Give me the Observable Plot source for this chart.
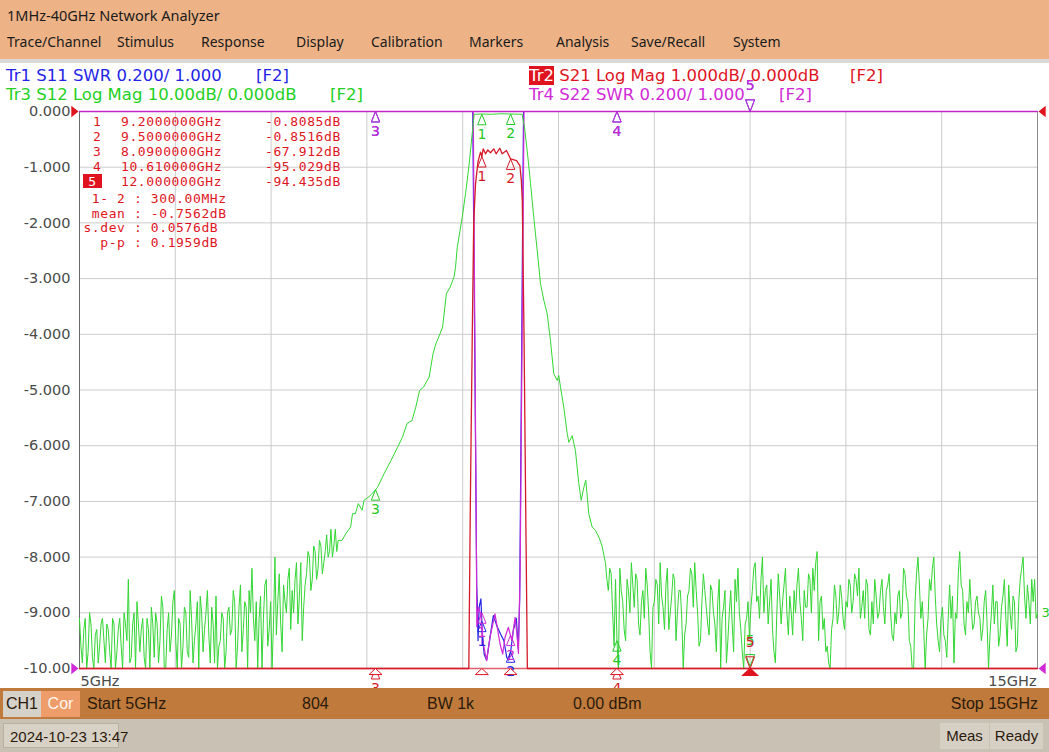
<!DOCTYPE html>
<html>
<head>
<meta charset="utf-8">
<script src="https://cdn.jsdelivr.net/npm/d3@7"></script>
<script src="https://cdn.jsdelivr.net/npm/@observablehq/plot@0.6"></script>
<style>
  html,body{margin:0;padding:0;}
  body{width:1049px;height:752px;position:relative;overflow:hidden;background:#fff;}
  .a{position:absolute;white-space:nowrap;}
  .ui{font-family:"Noto Sans","Open Sans",sans-serif;font-size:14px;color:#1a1a1a;line-height:18px;}
  .tr{font-family:"DejaVu Sans",sans-serif;font-size:16.5px;line-height:19px;}
  .mk{font-family:"DejaVu Sans Mono",monospace;font-size:13px;letter-spacing:0.6px;color:#e0141e;line-height:15px;}
  .nb{font-family:"Liberation Sans Narrow","Liberation Sans",sans-serif;font-size:16px;color:#2b1a0c;line-height:20px;}
</style>
</head>
<body>
<div id="chart" class="a" style="left:0;top:62px;z-index:1"></div>
<script>
// ================= DATA =================
const windowTitle = "1MHz-40GHz Network Analyzer";
const menuItems = ["Trace/Channel","Stimulus","Response","Display","Calibration","Markers","Analysis","Save/Recall","System"];

const traceIds = ["Tr1","Tr2","Tr3","Tr4"];
const traceParams = ["S11","S21","S12","S22"];
const traceFormats = ["SWR","Log Mag","Log Mag","SWR"];
const traceScaleText = ["0.200/ 1.000","1.000dB/ 0.000dB","10.00dB/ 0.000dB","0.200/ 1.000"];
const traceTag = "[F2]";

const startGHz = 5, stopGHz = 15;
const xGridGHz = [6,7,8,9,10,11,12,13,14];
const yGridDiv = [-1,-2,-3,-4,-5,-6,-7,-8,-9];
const yTicks = [0,-1,-2,-3,-4,-5,-6,-7,-8,-9,-10];
const yTickLabels = ["0.000","-1.000","-2.000","-3.000","-4.000","-5.000","-6.000","-7.000","-8.000","-9.000","-10.00"];
const xEdgeLabels = ["5GHz","15GHz"];

// per-division scales and reference values
const s21DbPerDiv = 1, s21RefDb = 0;
const s12DbPerDiv = 10, s12RefDb = 0;
const swrPerDiv = 0.2, swrRef = 1.0;

// Tr3 S12 log mag (dB): low-side noise floor (linear sweep points)
const s12LowNoiseStartGHz = 5.00, s12LowNoiseStopGHz = 7.70;
const s12LowNoiseDb = [
 -91,-96,-99,-93,-91,-100,-97,-90,-92,-98,-100,-94,-93,-99,-96,-92,-91,-95,-99,-92,
 -93,-97,-100,-91,-92,-100,-97,-93,-91,-96,-100,-90,-92,-95,-84,-99,-98,-92,-90,-100,
 -88,-92,-97,-93,-91,-98,-100,-91,-93,-100,-89,-92,-98,-90,-92,-99,-95,-87,-89,-100,
 -100,-93,-90,-97,-94,-88,-86,-95,-100,-91,-92,-100,-96,-89,-90,-97,-98,-86,-91,-99,
 -95,-92,-88,-100,-87,-90,-97,-93,-90,-86,-94,-99,-89,-92,-99,-87,-100,-96,-95,-90,
 -91,-100,-97,-90,-89,-94,-93,-86,-88,-100,-96,-89,-85,-97,-93,-88,-89,-100,-86,-90,
 -82,-91,-95,-88,-100,-91,-87,-100,-91,-85,-84,-96,-93,-88,-100,-92,-80,-94,-88,-83,
 -92,-97,-85,-88,-90,-84,-82,-93,-86,-90,-84,-81,-92,-87,-81,-95,-89,-85,-83,-79,
 -80,-86,-84,-78,-79,-84,-82,-77,-78,-83,-81,-79,-76,-80,-79,-75,-80,-78,-75,-79,
 -77];
// skirts and passband
const s12SkirtGHz = [7.74,7.78,7.83,7.85,7.88,7.91,7.95,7.97,8.02,8.07,8.09,8.11,8.18,8.25,8.32,8.37,8.42,8.47,8.51,8.55,8.59,8.65,8.69,8.72,8.75,8.79,8.83,8.87,8.91,8.925,8.943,8.995,9.03,9.064,9.099,9.12,9.20,9.30,9.40,9.50,9.62,9.645,9.673,9.708,9.742,9.778,9.812,9.847,9.882,9.916,9.951,9.986,10.003,10.021,10.055,10.091,10.108,10.143,10.177,10.212,10.237,10.264,10.285,10.316,10.351,10.386,10.421,10.455];
const s12SkirtDb  = [-77.0,-75.8,-74.6,-72.2,-72.2,-70.4,-71.6,-69.8,-69.2,-68.3,-67.9,-67.5,-65.0,-62.7,-60.3,-58.5,-56.0,-55.5,-53.1,-50.1,-49.5,-47.7,-43.5,-41.7,-40.5,-38.7,-32.7,-31.5,-29.7,-28.0,-24.4,-19.0,-14.7,-10.0,-4.0,-0.5,-0.45,-0.5,-0.4,-0.45,-0.5,-2.8,-7.0,-12.9,-19.0,-25.0,-30.9,-33.9,-36.3,-41.1,-47.1,-48.3,-47.4,-49.5,-53.1,-57.8,-59.4,-58.2,-60.9,-66.8,-69.8,-67.5,-66.2,-72.2,-74.6,-75.2,-76.4,-78.0];
// high-side noise floor (linear sweep points)
const s12HighNoiseStartGHz = 10.49, s12HighNoiseStopGHz = 15.00;
const s12HighNoiseDb = [
 -81,-84,-86,-82,-83,-90,-96,-84,-95,-100,-82,-86,-88,-93,-95,-84,-86,-90,-81,-85,
 -89,-83,-84,-92,-94,-88,-86,-91,-82,-85,-90,-97,-100,-89,-88,-84,-85,-92,-81,-87,
 -89,-93,-85,-82,-93,-90,-87,-83,-84,-95,-90,-86,-86,-91,-100,-94,-92,-87,-86,-82,
 -83,-89,-81,-86,-90,-96,-95,-88,-83,-86,-89,-92,-94,-85,-86,-90,-92,-97,-88,-84,
 -100,-91,-89,-86,-99,-95,-90,-86,-92,-97,-84,-88,-82,-90,-93,-97,-100,-92,-91,-88,
 -94.4,-89,-86,-82,-81,-88,-87,-91,-84,-80,-90,-86,-85,-92,-88,-84,-93,-97,-99,-90,
 -83,-87,-92,-88,-85,-82,-90,-94,-87,-90,-94,-86,-90,-85,-82,-88,-91,-95,-86,-89,
 -89,-83,-84,-90,-82,-86,-81,-79,-95,-88,-87,-93,-91,-97,-96,-99,-100,-93,-91,-85,
 -87,-92,-90,-85,-87,-91,-93,-88,-89,-84,-85,-90,-88,-83,-84,-87,-82,-91,-89,-86,
 -91,-84,-85,-93,-94,-88,-92,-84,-87,-91,-90,-86,-84,-89,-92,-86,-85,-83,-90,-94,
 -95,-90,-92,-87,-86,-91,-90,-82,-83,-87,-88,-95,-96,-100,-100,-88,-83,-80,-85,-91,
 -88,-93,-100,-94,-91,-84,-86,-82,-80,-87,-92,-95,-97,-91,-89,-94,-95,-98,-91,-85,
 -91,-87,-99,-90,-91,-83,-79,-85,-86,-92,-94,-88,-90,-84,-89,-93,-92,-88,-87,-90,
 -91,-95,-93,-88,-86,-92,-100,-94,-90,-85,-92,-88,-88,-96,-94,-89,-87,-84,-91,-96,
 -85,-90,-93,-87,-88,-97,-96,-88,-84,-82,-80,-87,-91,-85,-88,-92,-84,-88,-84,-91,
 -90];

// Tr2 S21 log mag (dB)
const s21GHz = [5.0,7.0,8.09,8.6,9.0,9.064,9.08,9.10,9.115,9.134,9.16,9.186,9.2,9.214,9.238,9.262,9.29,9.324,9.349,9.387,9.412,9.457,9.5,9.562,9.597,9.612,9.622,9.64,9.66,9.675,9.72,10.2,10.61,12.0,15.0];
const s21Db  = [-91,-88,-67.912,-50,-19,-10.2,-7.0,-4.0,-2.0,-1.3,-0.9,-0.73,-0.8085,-0.67,-0.76,-0.69,-0.74,-0.67,-0.76,-0.66,-0.76,-0.70,-0.8516,-0.88,-0.97,-1.24,-1.6,-4.0,-7.5,-10.2,-18,-66,-95.029,-94.435,-90];

// Tr1 S11 SWR
const s11GHz = [5.0,9.105,9.146,9.152,9.16,9.172,9.19,9.205,9.225,9.25,9.28,9.32,9.36,9.40,9.43,9.46,9.48,9.50,9.53,9.56,9.58,9.595,9.635,15.0];
const s11Swr = [40,40,1.30,1.24,1.10,1.22,1.25,1.12,1.05,1.03,1.10,1.19,1.15,1.12,1.10,1.04,1.03,1.06,1.14,1.18,1.07,1.25,40,40];
// Tr4 S22 SWR
const s22GHz = [5.0,9.11,9.144,9.147,9.163,9.188,9.215,9.250,9.285,9.337,9.39,9.418,9.442,9.477,9.513,9.547,9.565,9.582,9.600,9.64,15.0];
const s22Swr = [40,40,1.39,1.15,1.22,1.196,1.088,1.028,1.112,1.196,1.088,1.052,1.112,1.148,1.10,1.184,1.126,1.054,1.364,40,40];

// Markers
const markerNums = [1,2,3,4,5];
const markerGHz = [9.2,9.5,8.09,10.61,12.0];
const markerS21Db = [-0.8085,-0.8516,-67.912,-95.029,-94.435];
const markerS12Db = [-0.5,-0.45,-67.9,-95.0,-99.6];
const markerS11Swr = [1.17,1.06,40,40,40];
const markerS22Swr = [1.20,1.12,40,40,40];
const activeMarker = 5;
const statLabels = ["1- 2","mean","s.dev","p-p"];
const statValues = ["300.00MHz","-0.7562dB","0.0576dB","0.1959dB"];

// status bars
const channelTag = "CH1", corrTag = "Cor";
const stimulusItems = ["Start 5GHz","804","BW 1k","0.00 dBm"];
const stopText = "Stop 15GHz";
const dateText = "2024-10-23 13:47";
const statusItems = ["Meas","Ready"];

// ================= COLORS / LAYOUT =================
const C = {blue:"#2424e6", red:"#e0141e", green:"#33d633", magenta:"#d02ad6", grid:"#cbcbcb", tick:"#4a4a4a"};

// ================= HTML chrome =================
function el(cls, css, text, parent=document.body){
  const d = document.createElement("div"); d.className = "a " + cls; d.style.cssText = css;
  if (text !== undefined) d.textContent = text; parent.appendChild(d); return d;
}
el("", "left:0;top:0;width:1049px;height:59px;background:#edb387;z-index:2");
el("", "left:0;top:59px;width:1049px;height:4px;background:#d9d9d9;z-index:2");
el("ui", "left:7px;top:6px;z-index:3;font-size:14.5px", windowTitle);
const menuX = [7,117,201,296,371,469,556,631,733];
menuItems.forEach((m,i)=> el("ui", `left:${menuX[i]}px;top:33px;z-index:3`, m));

// trace labels
const trPos = {Tr1:[6,66], Tr3:[6,85], Tr2:[529,66], Tr4:[529,85]};
const trTagX = {Tr1:256, Tr3:330, Tr2:850, Tr4:779};
const trColor = {Tr1:C.blue, Tr2:C.red, Tr3:"#22d022", Tr4:C.magenta};
traceIds.forEach((id,i)=>{
  const [x,y] = trPos[id];
  const d = el("tr", `left:${x}px;top:${y}px;z-index:4;color:${trColor[id]}`);
  const s = document.createElement("span"); s.textContent = id;
  if (id === "Tr2") { s.style.background = C.red; s.style.color = "#fff"; }
  d.appendChild(s);
  d.appendChild(document.createTextNode(` ${traceParams[i]} ${traceFormats[i]} ${traceScaleText[i]}`));
  el("tr", `left:${trTagX[id]}px;top:${y}px;z-index:4;color:${trColor[id]}`, traceTag);
});

// marker table
const charW = 8.43, colonX = 134;
markerNums.forEach((n,i)=>{
  const top = 114 + i*15;
  const f = markerGHz[i].toPrecision(8) + "GHz";
  const v = markerS21Db[i].toFixed(Math.abs(markerS21Db[i]) < 10 ? 4 : 3) + "dB";
  if (n === activeMarker) {
    el("mk", `left:83px;top:${top}px;width:19px;height:14px;background:${C.red};color:#fff;text-align:center;z-index:4`, String(n));
  } else {
    el("mk", `left:93px;top:${top}px;z-index:4`, String(n));
  }
  el("mk", `left:121px;top:${top}px;z-index:4`, f);
  el("mk", `left:265px;top:${top}px;z-index:4`, v);
});
statLabels.forEach((lab,i)=>{
  const top = 191 + i*14.5;
  el("mk", `left:${colonX - (lab.length+1)*charW}px;top:${top}px;z-index:4`, `${lab} : ${statValues[i]}`);
});

// bottom bars
el("", "left:0;top:688px;width:1049px;height:31px;background:#c07b3c;z-index:5");
el("nb", "left:3px;top:691px;width:38px;height:26px;line-height:26px;background:#d6d2ca;text-align:center;z-index:6", channelTag);
el("nb", "left:41px;top:691px;width:39px;height:26px;line-height:26px;background:#ee9d6a;color:#fff6ee;text-align:center;z-index:6", corrTag);
const stimX = [87,302,427,573];
stimulusItems.forEach((s,i)=> el("nb", `left:${stimX[i]}px;top:694px;z-index:6`, s));
el("nb", "right:11px;top:694px;z-index:6", stopText);
el("", "left:0;top:719px;width:1049px;height:33px;background:#c9c1b3;z-index:5");
el("nb", "left:3px;top:723px;width:116px;height:25px;line-height:25px;background:#d8d2c6;border:1px solid #b8b0a2;padding-left:6px;box-sizing:border-box;z-index:6;font-size:15px", dateText);
const stX = [[940,49],[990,53]];
statusItems.forEach((s,i)=> el("nb", `left:${stX[i][0]}px;top:723px;width:${stX[i][1]}px;height:26px;line-height:26px;background:#d6d0c4;text-align:center;z-index:6;font-size:15px`, s));

// ================= PLOT =================
const clampU = u => Math.max(-10, Math.min(0, u));
const u21 = db => clampU((db - s21RefDb) / s21DbPerDiv);
const u12 = db => clampU((db - s12RefDb) / s12DbPerDiv);
const uSwr = s => clampU(-10 + (s - swrRef) / swrPerDiv);

const sweep = (a, b, vals) => vals.map((v,i)=> ({f: a + (b-a)*i/(vals.length-1), db: v}));
const s12 = [
  ...sweep(s12LowNoiseStartGHz, s12LowNoiseStopGHz, s12LowNoiseDb),
  ...s12SkirtGHz.map((f,i)=>({f, db: s12SkirtDb[i]})),
  ...sweep(s12HighNoiseStartGHz, s12HighNoiseStopGHz, s12HighNoiseDb)
].map(d => ({f: d.f, u: u12(d.db)}));
const s21 = s21GHz.map((f,i)=>({f, u: u21(s21Db[i])}));
const s11 = s11GHz.map((f,i)=>({f, u: uSwr(s11Swr[i])}));
const s22 = s22GHz.map((f,i)=>({f, u: uSwr(s22Swr[i])}));

const mk = (vals, conv) => markerNums.map((n,i)=>({f: markerGHz[i], u: conv(vals[i]), num: String(n), active: n === activeMarker}));

const triUp = {draw(c, size){const k=Math.sqrt(size/Math.PI); c.moveTo(0,0); c.lineTo(k,2.5*k); c.lineTo(-k,2.5*k); c.closePath();}};
const triDown = {draw(c, size){const k=Math.sqrt(size/Math.PI); c.moveTo(0,0); c.lineTo(k,-2.6*k); c.lineTo(-k,-2.6*k); c.closePath();}};
const triWide = {draw(c, size){const k=Math.sqrt(size/Math.PI); c.moveTo(0,0); c.lineTo(1.7*k,1.6*k); c.lineTo(-1.7*k,1.6*k); c.closePath();}};
const triRight = {draw(c, size){const k=Math.sqrt(size/Math.PI); c.moveTo(0,0); c.lineTo(-1.6*k,-1.3*k); c.lineTo(-1.6*k,1.3*k); c.closePath();}};
const triLeft = {draw(c, size){const k=Math.sqrt(size/Math.PI); c.moveTo(0,0); c.lineTo(1.6*k,-1.3*k); c.lineTo(1.6*k,1.3*k); c.closePath();}};

function markerMarks(rows, color){
  const pas = rows.filter(d=>!d.active), act = rows.filter(d=>d.active);
  return [
    Plot.dot(pas, {x:"f", y:"u", symbol: triUp, r: 4.2, stroke: color, strokeWidth: 1, fill: "none"}),
    Plot.text(pas, {x:"f", y:"u", text:"num", dy: 20, fill: color, fontSize: 14}),
    Plot.dot(act, {x:"f", y:"u", symbol: triDown, r: 4.5, stroke: color, strokeWidth: 1, fill: "none"}),
    Plot.text(act, {x:"f", y:"u", text:"num", dy: -26, fill: color, fontSize: 14})
  ];
}

const stim = markerNums.map((n,i)=>({f: markerGHz[i], active: n === activeMarker}));
const lastS12 = s12[s12.length-1];

const chart = Plot.plot({
  width: 1049, height: 626,
  marginLeft: 79, marginRight: 12, marginTop: 49, marginBottom: 20,
  x: {domain: [startGHz, stopGHz], axis: null},
  y: {domain: [-10, 0], axis: null},
  style: {background: "transparent", fontFamily: "DejaVu Sans", overflow: "visible"},
  marks: [
    Plot.ruleX(xGridGHz, {stroke: C.grid}),
    Plot.ruleY(yGridDiv, {stroke: C.grid}),
    Plot.ruleX([startGHz], {stroke: "#6a6a6a"}),
    Plot.ruleX([stopGHz], {stroke: "#8c8c8c"}),
    Plot.axisY({ticks: yTicks, tickFormat: d => yTickLabels[yTicks.indexOf(d)], tickSize: 0, tickPadding: 9, fontSize: 14.5, color: C.tick, label: null}),
    Plot.text([xEdgeLabels[0]], {x: startGHz, y: -10, text: d => d, textAnchor: "start", dx: 1, dy: 13, fontSize: 14.5, fill: C.tick}),
    Plot.text([xEdgeLabels[1]], {x: stopGHz, y: -10, text: d => d, textAnchor: "end", dx: -1, dy: 13, fontSize: 14.5, fill: C.tick}),
    Plot.ruleY([-10], {stroke: "#e2606e", strokeWidth: 1.6}),
    Plot.line(s11, {x: "f", y: "u", stroke: C.blue, strokeWidth: 1.2}),
    Plot.line(s22, {x: "f", y: "u", stroke: C.magenta, strokeWidth: 1.2}),
    Plot.line(s12, {x: "f", y: "u", stroke: C.green, strokeWidth: 1}),
    Plot.line(s21, {x: "f", y: "u", stroke: "#d41a28", strokeWidth: 1.3}),
    Plot.ruleY([0], {stroke: "#c424c8", strokeWidth: 1.4}),
    ...markerMarks(mk(markerS11Swr, uSwr), C.blue),
    ...markerMarks(mk(markerS22Swr, uSwr), C.magenta),
    ...markerMarks(mk(markerS12Db, u12), "#26c826"),
    ...markerMarks(mk(markerS21Db, u21), "#d41a28"),
    Plot.dot(stim.filter(d=>!d.active), {x: "f", y: -10, symbol: triWide, r: 3.8, stroke: C.red, fill: "white", strokeWidth: 1}),
    Plot.dot(stim.filter(d=>d.active), {x: "f", y: -10, symbol: triWide, r: 4.2, fill: C.red, stroke: C.red}),
    Plot.dot([u21(s21RefDb)], {x: startGHz, y: d => d, symbol: triRight, r: 4.5, fill: C.red, dx: -1}),
    Plot.dot([uSwr(swrRef)], {x: startGHz, y: d => d, symbol: triRight, r: 4.5, fill: C.magenta, dx: -1}),
    Plot.dot([u21(s21RefDb)], {x: stopGHz, y: d => d, symbol: triLeft, r: 4.5, fill: C.red, dx: 1}),
    Plot.dot([uSwr(swrRef)], {x: stopGHz, y: d => d, symbol: triLeft, r: 4.5, fill: C.magenta, dx: 1}),
    Plot.text([lastS12], {x: "f", y: "u", text: () => "3", dx: 4, textAnchor: "start", fill: "#26c826", fontSize: 13})
  ]
});
document.getElementById("chart").appendChild(chart);
</script>
</body>
</html>
